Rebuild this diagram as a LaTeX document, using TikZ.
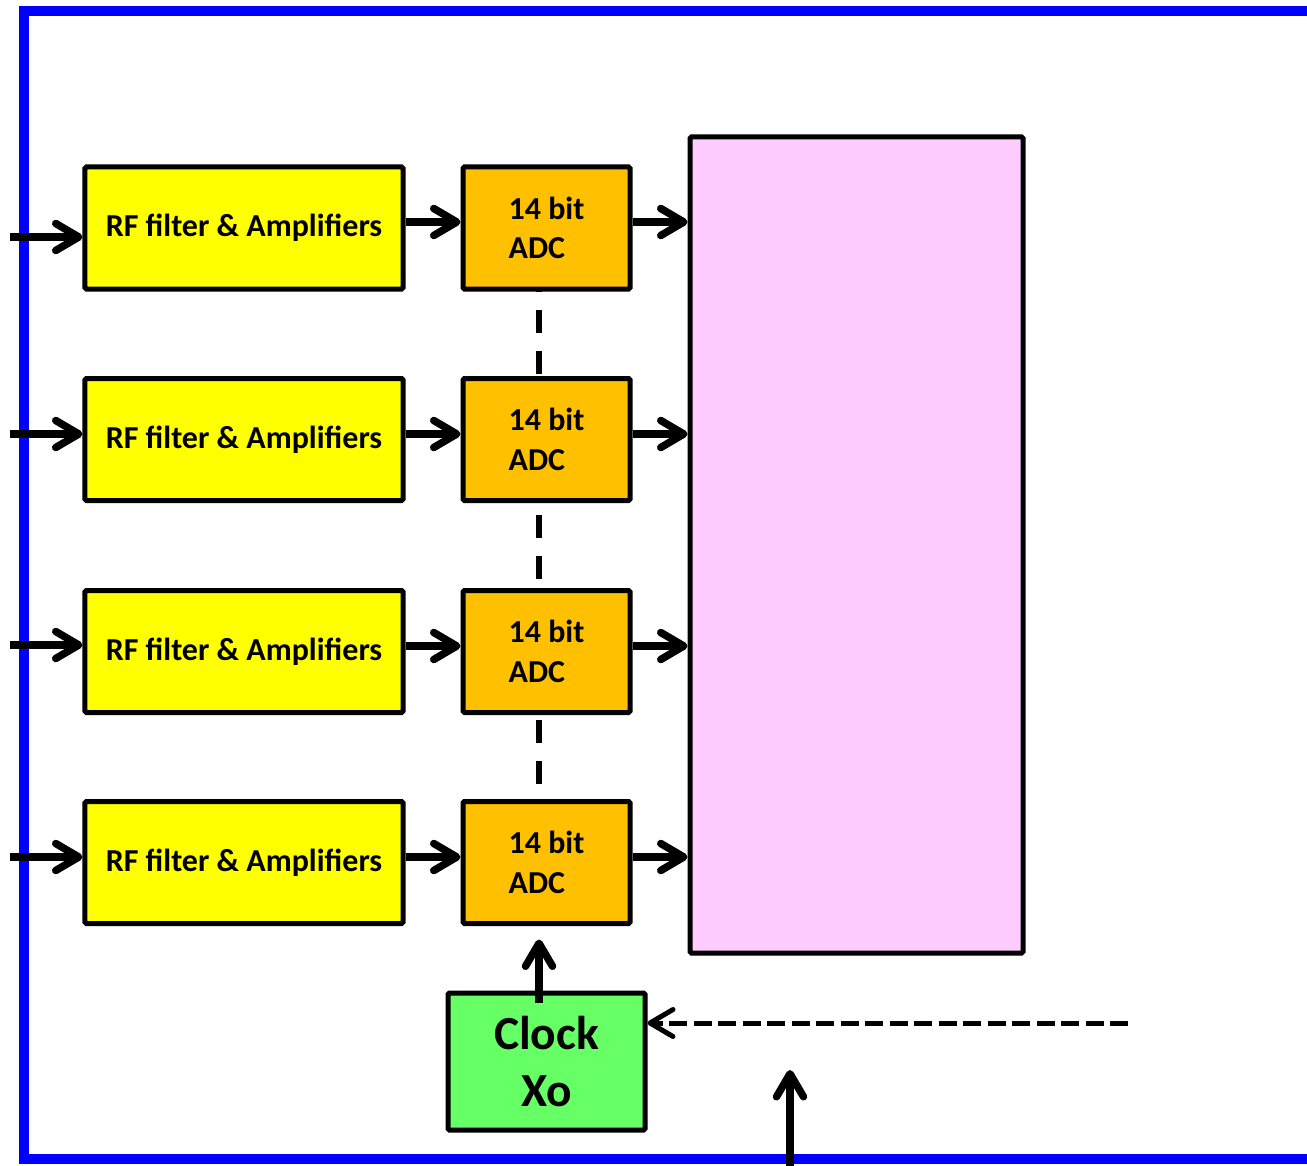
\documentclass[tikz,border=0pt]{standalone}
\usepackage{fontspec}
\setmainfont{Carlito}
\usetikzlibrary{arrows.meta,backgrounds}
\definecolor{rxframe}{RGB}{0,0,255}
\definecolor{rxrf}{RGB}{255,255,0}
\definecolor{rxadc}{RGB}{255,192,0}
\definecolor{rxdsp}{RGB}{255,204,255}
\definecolor{rxclk}{RGB}{102,255,102}

\begin{document}
\begin{tikzpicture}[
    x=0.2mm, y=-0.2mm,
    >={Straight Barb[length=4.6mm,width=5.4mm,round]},
    frame/.style={draw=rxframe, line width=2.1mm},
    blk/.style={draw=black, line width=1mm, rounded corners=0.3mm, inner sep=0pt,
                font=\fontsize{18.2}{22.5}\selectfont\bfseries},
    RF/.style={blk, fill=rxrf, minimum width=63.6mm, minimum height=24.4mm},
    ADC/.style={blk, fill=rxadc, minimum width=33.4mm, minimum height=24.4mm, align=left},
    DSP/.style={blk, fill=rxdsp, minimum width=66.6mm, minimum height=163.2mm},
    CLK/.style={blk, fill=rxclk, minimum width=39.4mm, minimum height=27.4mm, align=center,
                font=\fontsize{27}{32}\selectfont\bfseries},
    arr/.style={->, draw=black, line width=1.5mm},
    sync/.style={draw=black, line width=1.1mm, dash pattern=on 4.6mm off 3.6mm},
    ref/.style={->, draw=black, line width=1mm, dash pattern=on 3.6mm off 1.3mm},
  ]
  \useasboundingbox (0,0) rectangle (1307,1165);

  %% receiver enclosure (runs off to the right)
  \draw[frame] (1340,11) -- (24,11) -- (24,1159) -- (1340,1159);

  %% the four receive chains: row / box centre / input arrow / chain arrows
  \foreach \r/\y/\yin/\yc in {1/228/237/222, 2/439.5/434/434, 3/651.5/645/646, 4/862.5/857/857} {
    \node[RF]  (rf\r)  at (244,\y)   {RF filter \& Amplifiers};
    \node[ADC] (adc\r) at (546.5,\y) {14 bit\\ADC};
    \coordinate (in\r) at (10,\yin);
    \coordinate (ch\r) at (0,\yc);
  }
  \node[DSP] (dsp) at (856.5,545) {};
  \node[CLK] (clock) at (546.5,1061.5) {Clock\\Xo};

  % common sampling clock, behind the ADCs
  \begin{pgfonlayer}{background}
    \draw[sync] ([xshift=-1.5mm]adc1.center) -- ([xshift=-1.5mm]adc4.center);
  \end{pgfonlayer}

  \foreach \r in {1,...,4} {
    \draw[arr] (in\r) -- (in\r -| rf\r.west);
    \draw[arr] (ch\r -| rf\r.east) -- (ch\r -| adc\r.west);
    \draw[arr] (ch\r -| adc\r.east) -- (ch\r -| dsp.west);
  }

  %% clock distribution and reference
  \draw[arr] ([shift={(-1.5mm,-2.5mm)}]clock.north) -- ([shift={(-1.5mm,-2.7mm)}]adc4.south);
  \coordinate (refin) at (1128,1023);
  \draw[ref] (refin) -- (refin -| clock.east);

  \coordinate (busin) at (790,1180);
  \coordinate (busend) at (790,1070);
  \draw[arr] (busin) -- (busend);

\end{tikzpicture}
\end{document}
